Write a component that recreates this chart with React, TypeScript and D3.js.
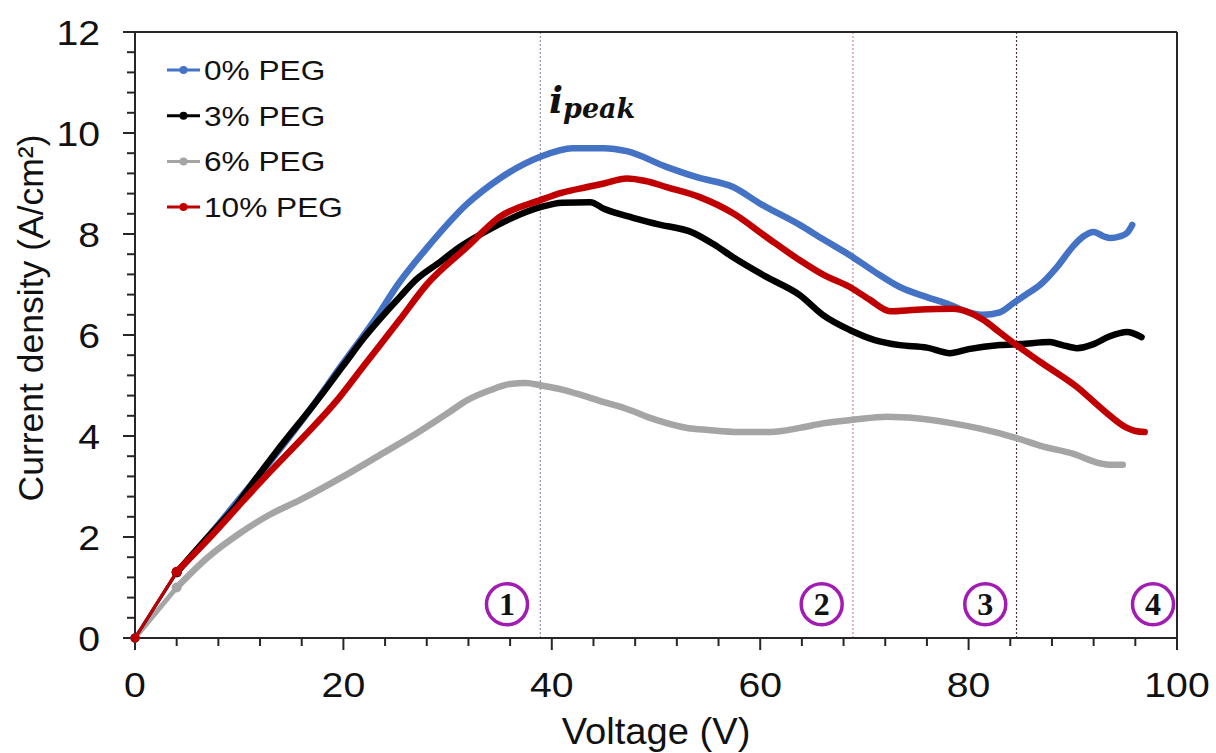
import React from "react";
import * as d3 from "d3";

// ---- data ----
const v0 = [0, 4, 7, 10, 13, 16, 20, 23, 25.4, 28, 31.9, 35, 38.9, 42, 45, 47.2, 51, 54, 57.4, 60, 63.8, 66, 68.6, 71, 73.4, 76, 78.2, 80, 81.4, 83, 84.3, 85.5, 86.9, 88.5, 90, 91, 92, 93, 93.6, 94.5, 95.2, 95.7];
const i0 = [0, 1.3, 2.0, 2.75, 3.5, 4.3, 5.45, 6.3, 7.05, 7.72, 8.6, 9.1, 9.53, 9.7, 9.7, 9.64, 9.33, 9.12, 8.93, 8.6, 8.18, 7.9, 7.58, 7.25, 6.95, 6.75, 6.6, 6.45, 6.4, 6.45, 6.63, 6.8, 7.0, 7.35, 7.75, 7.95, 8.04, 7.95, 7.92, 7.95, 8.02, 8.18];

const v3 = [0, 4, 7, 10, 11.3, 13.6, 17.5, 20, 22, 25.4, 27, 29.3, 31, 33.4, 36, 38.9, 41, 43.7, 45, 47.8, 50, 53.6, 55.5, 57.4, 60.6, 63.8, 66, 68.6, 71, 73.4, 76, 78.2, 80, 83, 85, 87.8, 89, 90.4, 92, 93.5, 95.2, 96.6];
const i3 = [0, 1.3, 2.0, 2.7, 3.07, 3.7, 4.71, 5.4, 5.95, 6.75, 7.1, 7.45, 7.72, 8.02, 8.3, 8.53, 8.62, 8.63, 8.5, 8.32, 8.2, 8.02, 7.8, 7.54, 7.15, 6.79, 6.4, 6.1, 5.9, 5.8, 5.75, 5.64, 5.72, 5.8, 5.82, 5.86, 5.8, 5.74, 5.82, 5.97, 6.06, 5.96];

const v6 = [0, 4, 7, 10.1, 13, 15.8, 20, 23.8, 27, 30, 31.9, 34, 36, 37.5, 39, 41, 43, 45, 47, 50, 53, 55, 58, 61, 63.8, 66, 68.9, 72.2, 75, 78.2, 81, 84.6, 87, 90, 92.6, 93.5, 94.8];
const i6 = [0, 1.0, 1.6, 2.08, 2.45, 2.73, 3.2, 3.66, 4.05, 4.45, 4.71, 4.9, 5.03, 5.05, 5.0, 4.92, 4.8, 4.67, 4.55, 4.32, 4.16, 4.12, 4.08, 4.08, 4.16, 4.25, 4.32, 4.38, 4.35, 4.26, 4.15, 3.96, 3.8, 3.65, 3.46, 3.43, 3.43];

const v10 = [0, 4, 7, 10.4, 13, 15.8, 19.4, 22, 25.4, 28, 31.9, 35, 38.9, 41, 43.4, 45, 47.2, 49, 51, 54.2, 57.4, 60.6, 63.8, 66, 68.6, 70.5, 72.5, 75, 78.5, 80, 81.4, 83, 84.6, 87, 90.4, 93, 95.2, 96, 96.9];
const i10 = [0, 1.31, 1.95, 2.72, 3.3, 3.9, 4.71, 5.4, 6.3, 7.0, 7.75, 8.34, 8.67, 8.82, 8.93, 9.0, 9.1, 9.05, 8.93, 8.73, 8.41, 7.94, 7.48, 7.2, 6.95, 6.7, 6.47, 6.5, 6.52, 6.45, 6.3, 6.05, 5.8, 5.45, 4.97, 4.5, 4.16, 4.1, 4.08];

const seriesNames = ["0% PEG", "3% PEG", "6% PEG", "10% PEG"];
const seriesColors = ["#4472C4", "#000000", "#A5A5A5", "#C00000"];
const seriesV = [v0, v3, v6, v10];
const seriesI = [i0, i3, i6, i10];
const drawOrder = [2, 0, 1, 3];

const xMajorTicks = [0, 20, 40, 60, 80, 100];
const yMajorTicks = [0, 2, 4, 6, 8, 10, 12];
const stageBounds = [38.9, 68.9, 84.6];
const stageBoundColors = ["#9a8fa8", "#c58aa0", "#4a2f48"];
const stageLabels = ["1", "2", "3", "4"];
const stageLabelV = [35.7, 65.9, 81.6, 97.7];
const stageLabelI = 0.67;

const W = 1216;
const H = 753;
const left = 135, right = 1177, top = 32, bottom = 638;

export default function App() {
  const x = d3.scaleLinear().domain([0, 100]).range([left, right]);
  const y = d3.scaleLinear().domain([0, 12]).range([bottom, top]);
  const line = d3.line<[number, number]>().x(d => x(d[0])).y(d => y(d[1])).curve(d3.curveMonotoneX);

  const xMinor = d3.range(0, 100.01, 4);
  const yMinor = d3.range(0, 12.01, 0.4);
  const sans = "'Liberation Sans', Arial, sans-serif";
  const axisColor = "#262626";

  return (
    <svg width={W} height={H} style={{ position: "absolute", left: 0, top: 0, background: "#fff" }}>
      <rect x={0} y={0} width={W} height={H} fill="#fff" />
      {/* stage boundary dotted lines */}
      {stageBounds.map((b, k) => (
        <line key={k} x1={x(b)} x2={x(b)} y1={top} y2={bottom} stroke={stageBoundColors[k]} strokeWidth={1.2} strokeDasharray="2,2" />
      ))}
      {/* box */}
      <line x1={left - 12} x2={right} y1={top} y2={top} stroke={axisColor} strokeWidth={2} />
      <line x1={right} x2={right} y1={top} y2={bottom + 12} stroke={axisColor} strokeWidth={2} />
      <line x1={left} x2={left} y1={top} y2={bottom} stroke={axisColor} strokeWidth={2} />
      <line x1={left - 12} x2={right} y1={bottom} y2={bottom} stroke={axisColor} strokeWidth={2} />
      {xMinor.map((t, k) => {
        const major = xMajorTicks.includes(Math.round(t));
        return <line key={"xm" + k} x1={x(t)} x2={x(t)} y1={bottom} y2={bottom + (major ? 12 : 8)} stroke={axisColor} strokeWidth={2} />;
      })}
      {yMinor.map((t, k) => {
        const major = Math.abs(t - Math.round(t / 2) * 2) < 1e-6;
        return <line key={"ym" + k} x1={left - (major ? 12 : 8)} x2={left} y1={y(t)} y2={y(t)} stroke={axisColor} strokeWidth={2} />;
      })}
      {xMajorTicks.map(t => (
        <text key={"xt" + t} transform={`translate(${x(t)},697) scale(1.12,1)`} textAnchor="middle" fontFamily={sans} fontSize={35} fill="#111">{t}</text>
      ))}
      {yMajorTicks.map(t => (
        <text key={"yt" + t} transform={`translate(100,${y(t) + 12.5}) scale(1.12,1)`} textAnchor="end" fontFamily={sans} fontSize={35} fill="#111">{t}</text>
      ))}
      <text transform={`translate(${(left + right) / 2},744) scale(1.06,1)`} textAnchor="middle" fontFamily={sans} fontSize={36} fill="#111">Voltage (V)</text>
      <text transform={`translate(43,318) rotate(-90)`} textAnchor="middle" fontFamily={sans} fontSize={35.5} fill="#111">Current density (A/cm²)</text>

      {/* series */}
      {drawOrder.map(s => {
        const pts: [number, number][] = seriesV[s].map((v, k) => [v, seriesI[s][k]]);
        return (
          <g key={"s" + s}>
            <path d={line(pts.slice(0, 2)) || ""} fill="none" stroke={seriesColors[s]} strokeWidth={s === 2 ? 5 : 3} />
            <path d={line(pts.slice(1)) || ""} fill="none" stroke={seriesColors[s]} strokeWidth={6.5} strokeLinejoin="round" strokeLinecap="round" />
            <circle cx={x(pts[0][0])} cy={y(pts[0][1])} r={4.5} fill={seriesColors[s]} />
            <circle cx={x(pts[1][0])} cy={y(pts[1][1])} r={5} fill={seriesColors[s]} />
          </g>
        );
      })}

      {/* stage labels */}
      {stageLabels.map((l, k) => (
        <g key={"st" + k}>
          <circle cx={x(stageLabelV[k])} cy={y(stageLabelI)} r={20.5} fill="#fff" stroke="#a21cb4" strokeWidth={3.5} />
          <text x={x(stageLabelV[k])} y={y(stageLabelI) + 11} textAnchor="middle" fontFamily="'Liberation Serif', 'Times New Roman', serif" fontWeight="bold" fontSize={32} fill="#111">{l}</text>
        </g>
      ))}

      {/* i_peak */}
      <text x={549} y={113} fontFamily="'DejaVu Serif', serif" fontStyle="italic" fontWeight="bold" fill="#111">
        <tspan fontSize={37}>i</tspan>
        <tspan fontSize={27} dy={5}>peak</tspan>
      </text>

      {/* legend */}
      {seriesNames.map((n, k) => {
        const cy = 70 + k * 45.7;
        return (
          <g key={"lg" + k}>
            <line x1={167} x2={200} y1={cy} y2={cy} stroke={seriesColors[k]} strokeWidth={3} />
            <circle cx={183.5} cy={cy} r={4} fill={seriesColors[k]} />
            <text transform={`translate(204,${cy + 10}) scale(1.13,1)`} fontFamily={sans} fontSize={28} fill="#111">{n}</text>
          </g>
        );
      })}
    </svg>
  );
}
